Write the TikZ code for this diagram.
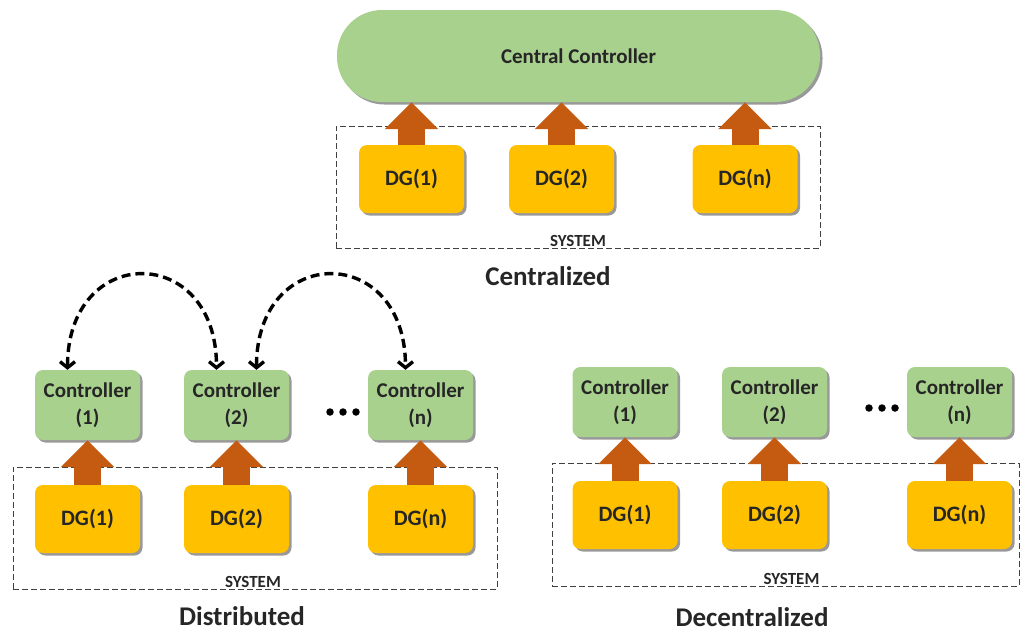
\documentclass[tikz,border=0pt]{standalone}
\usepackage{fontspec}
\setmainfont{Carlito}
\usetikzlibrary{arrows.meta,shadows,calc}
\definecolor{ctrlgreen}{HTML}{A9D18E}
\definecolor{dgyellow}{HTML}{FFC000}
\definecolor{arrowbrown}{HTML}{C55A11}
\definecolor{txt}{HTML}{262626}
\begin{document}
\begin{tikzpicture}[x=1pt,y=-1pt,
  box/.style={rounded corners=8pt, minimum width=105pt, inner sep=0pt, text=txt,
    drop shadow={shadow xshift=2.5pt, shadow yshift=-2.5pt, opacity=0.4, fill=black}},
  dgbox/.style={box, fill=dgyellow, minimum height=68pt, font=\bfseries\fontsize{22}{26}\selectfont},
  ctrlbox/.style={box, fill=ctrlgreen, minimum height=70pt, align=center, font=\bfseries\fontsize{21}{27}\selectfont},
  central/.style={fill=ctrlgreen, rounded corners=45pt, minimum width=483pt, minimum height=92pt, inner sep=0pt,
    text=txt, font=\bfseries\fontsize{21}{25}\selectfont,
    drop shadow={shadow xshift=2.5pt, shadow yshift=-2.5pt, opacity=0.4, fill=black}},
  blockarrow/.style={draw=arrowbrown, line width=27pt, -{Triangle[width=52pt,length=27pt]}},
  sysbox/.style={draw=black!75, line width=0.8pt, dash pattern=on 6pt off 3pt, inner sep=0pt},
  syslabel/.style={anchor=base, inner sep=0pt, text=txt, font=\bfseries\fontsize{17}{19}\selectfont},
  title/.style={text=txt, font=\bfseries\fontsize{27}{31}\selectfont},
  dasharc/.style={draw=black, line width=3.4pt, dash pattern=on 9pt off 5pt,
    {Straight Barb[length=6pt,width=15pt]}-{Straight Barb[length=6pt,width=15pt]}},
  dotmark/.style={circle, fill=black, inner sep=0pt, minimum size=7.5pt}
]
\useasboundingbox (0,0) rectangle (1021,633);

% ---------- Centralized ----------
\node[sysbox, minimum width=484pt, minimum height=122pt] (sysA) at (578,187) {};
\node[syslabel] (sysAl) at ($(sysA.south)+(0,-2)$) {SYSTEM};
\node[central] (cc) at (578.5,56) {Central Controller};
\node[dgbox] (a1) at (411.5,179) {DG(1)};
\node[dgbox] (a2) at (561.5,179) {DG(2)};
\node[dgbox] (an) at (745,179) {DG(n)};
\draw[blockarrow] (a1.north) -- (a1.north |- cc.south);
\draw[blockarrow] (a2.north) -- (a2.north |- cc.south);
\draw[blockarrow] (an.north) -- (an.north |- cc.south);
\node[title] (tA) at (548,276) {Centralized};

% ---------- Distributed ----------
\node[sysbox, minimum width=484pt, minimum height=122pt] (sysB) at (255,528) {};
\node[syslabel] (sysBl) at ($(sysB.south)+(-2,-2)$) {SYSTEM};
\node[ctrlbox] (b1c) at (87.5,405) {Controller\\(1)};
\node[ctrlbox] (b2c) at (236.5,405) {Controller\\(2)};
\node[ctrlbox] (bnc) at (420.5,405) {Controller\\(n)};
\node[dgbox] (b1) at (87.5,519) {DG(1)};
\node[dgbox] (b2) at (236.5,519) {DG(2)};
\node[dgbox] (bn) at (420.5,519) {DG(n)};
\draw[blockarrow] (b1.north) -- (b1c.south);
\draw[blockarrow] (b2.north) -- (b2c.south);
\draw[blockarrow] (bn.north) -- (bnc.south);
\coordinate (p1) at ($(b1c.north)+(-20,0)$);
\coordinate (p2) at ($(b2c.north)+(-20,0)$);
\coordinate (p3) at ($(b2c.north)+(20,0)$);
\coordinate (p4) at ($(bnc.north)+(-15,0)$);
\draw[dasharc] (p1) .. controls +(0,-127) and +(0,-127) .. (p2);
\draw[dasharc] (p3) .. controls +(0,-127) and +(0,-127) .. (p4);
\node[dotmark] (bd1) at (330,412) {};
\node[dotmark] (bd2) at (343,412) {};
\node[dotmark] (bd3) at (356,412) {};
\node[title] (tB) at (242,616) {Distributed};

% ---------- Decentralized ----------
\node[sysbox, minimum width=467pt, minimum height=123pt] (sysC) at (785.5,524.5) {};
\node[syslabel] (sysCl) at ($(sysC.south)+(6,-2)$) {SYSTEM};
\node[ctrlbox] (c1c) at (625,402) {Controller\\(1)};
\node[ctrlbox] (c2c) at (774.5,402) {Controller\\(2)};
\node[ctrlbox] (cnc) at (959.5,402) {Controller\\(n)};
\node[dgbox] (c1) at (625,515) {DG(1)};
\node[dgbox] (c2) at (774.5,515) {DG(2)};
\node[dgbox] (cn) at (959.5,515) {DG(n)};
\draw[blockarrow] (c1.north) -- (c1c.south);
\draw[blockarrow] (c2.north) -- (c2c.south);
\draw[blockarrow] (cn.north) -- (cnc.south);
\node[dotmark] (cd1) at (869,408) {};
\node[dotmark] (cd2) at (882,408) {};
\node[dotmark] (cd3) at (895,408) {};
\node[title] (tC) at (752,617) {Decentralized};
\end{tikzpicture}
\end{document}
